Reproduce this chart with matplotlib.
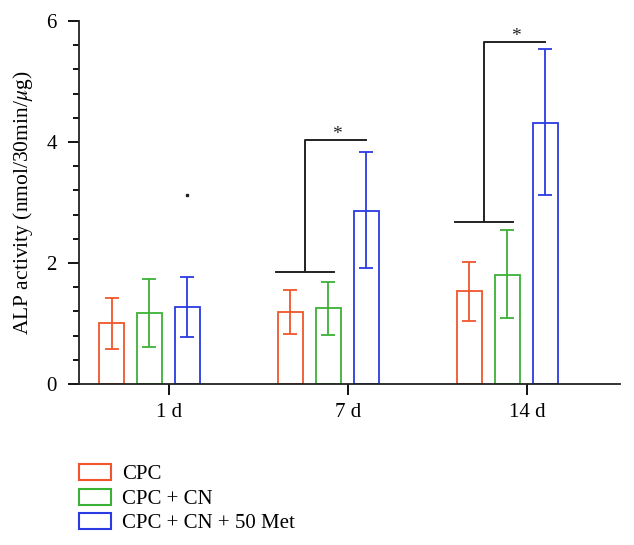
import matplotlib
matplotlib.use("Agg")
import matplotlib.pyplot as plt
from matplotlib.patches import Patch
from matplotlib.ticker import MultipleLocator
import numpy as np

# data
days = ["1 d", "7 d", "14 d"]
groups = ["CPC", "CPC + CN", "CPC + CN + 50 Met"]
colors = ["#F0562A", "#3BB135", "#2A3BE3"]
means = [
    [1.01, 1.19, 1.54],   # CPC
    [1.17, 1.25, 1.81],   # CPC + CN
    [1.28, 2.86, 4.32],   # CPC + CN + 50 Met
]
err_low = [
    [0.58, 0.83, 1.04],
    [0.61, 0.81, 1.09],
    [0.78, 1.91, 3.12],
]
err_high = [
    [1.42, 1.55, 2.02],
    [1.74, 1.69, 2.55],
    [1.77, 3.84, 5.53],
]
# significance brackets: (day index, lower bar height, upper bar height)
brackets = [(1, 1.85, 4.03), (2, 2.68, 5.65)]
stray_dot = 3.12

plt.rcParams["font.family"] = ["Liberation Serif", "DejaVu Serif"]
plt.rcParams["mathtext.fontset"] = "stix"
plt.rcParams["font.size"] = 15

fig = plt.figure(figsize=(6.34, 5.45), dpi=100)
ax = fig.add_axes([0.1246, 0.2954, 0.8533, 0.666])

x = np.arange(len(days))
width = 0.14
step = 0.212
offsets = [-step, 0, step]

for i in range(len(groups)):
    xs = x + offsets[i]
    m = np.array(means[i])
    lo = m - np.array(err_low[i])
    hi = np.array(err_high[i]) - m
    ax.bar(xs, m, width, facecolor="white", edgecolor=colors[i], linewidth=1.3)
    ax.errorbar(xs, m, yerr=[lo, hi], fmt="none", ecolor=colors[i],
                elinewidth=1.3, capsize=4.8, capthick=1.3)

# significance brackets
for d, ylow, yhigh in brackets:
    x0 = x[d] + offsets[0] - 0.08
    x1 = x[d] + offsets[1] + 0.03
    xm = (x0 + x1) / 2
    xt = x[d] + offsets[2]
    ax.plot([x0, x1], [ylow, ylow], color="#222222", lw=1.4)
    ax.plot([xm, xm, xt], [ylow, yhigh, yhigh], color="#222222", lw=1.4)
    ax.text((xm + xt) / 2 + 0.01, yhigh - 0.04, "*", ha="center", va="bottom",
            fontsize=14, color="#222222")

ax.plot([x[0] + offsets[2]], [stray_dot], marker="s", ms=1.5, color="#222222")

ax.set_xlim(-0.394, 2.63)
ax.set_ylim(0, 6)
ax.set_xticks(x + 0.11)
ax.set_xticklabels(days)
ax.yaxis.set_major_locator(MultipleLocator(2))
ax.yaxis.set_minor_locator(MultipleLocator(0.4))
ax.tick_params(axis="y", which="major", length=8, width=1.3, direction="out", pad=8)
ax.tick_params(axis="y", which="minor", length=4, width=1.3, direction="out")
ax.tick_params(axis="x", which="major", length=8, width=1.3, direction="out", pad=6)
for s in ["top", "right"]:
    ax.spines[s].set_visible(False)
ax.spines["left"].set_linewidth(1.3)
ax.spines["bottom"].set_linewidth(1.3)
ax.spines["left"].set_color("#222222")
ax.spines["bottom"].set_color("#222222")
ax.set_ylabel(r"ALP activity (nmol/30min/$\mu$g)", fontsize=15.5, labelpad=8)

handles = [Patch(facecolor="white", edgecolor=c, linewidth=1.5) for c in colors]
fig.legend(handles, groups, loc="upper left", bbox_to_anchor=(0.1246, 0.1486),
           frameon=False, handlelength=1.54, handleheight=0.82, handletextpad=0.53,
           labelspacing=0.2, borderaxespad=0, borderpad=0)

fig.savefig("out.png", dpi=100)
